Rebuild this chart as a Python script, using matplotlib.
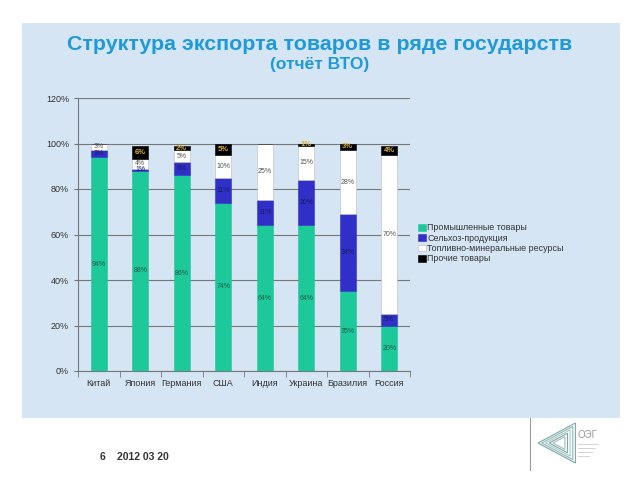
import matplotlib.pyplot as plt
import numpy as np
from matplotlib.patches import Rectangle, Polygon
from matplotlib.lines import Line2D

plt.rcParams['font.family'] = ['Liberation Sans', 'DejaVu Sans']

countries = ['Китай', 'Япония', 'Германия', 'США', 'Индия', 'Украина', 'Бразилия', 'Россия']
industrial = [94, 88, 86, 74, 64, 64, 35, 20]
agro = [3, 1, 6, 11, 11, 20, 34, 5]
fuel = [3, 4, 5, 10, 25, 15, 28, 70]
other = [0, 6, 2, 5, 0, 1, 3, 4]
series_names = ['Промышленные товары', 'Сельхоз-продукция',
                'Топливно-минеральные ресурсы', 'Прочие товары']
yticks = [0, 20, 40, 60, 80, 100, 120]

colors = ['#1dc99b', '#3030c8', '#ffffff', '#000000']
text_colors = ['#1f5a4a', '#1a1a60', '#555555', '#d9b13a']

fig = plt.figure(figsize=(6.4, 4.8), dpi=100)
fig.patch.set_facecolor('white')

# light blue slide panel
panel = Rectangle((22 / 640, 1 - 418 / 480), 598 / 640, 395 / 480,
                  transform=fig.transFigure, facecolor='#d5e5f3', edgecolor='none', zorder=-5)
fig.patches.append(panel)

fig.text(0.5, 1 - 45 / 480, 'Структура экспорта товаров в ряде государств',
         ha='center', va='center', fontsize=15.4, fontweight='bold', color='#1e9ad8')
fig.text(0.5, 1 - 64 / 480, '(отчёт ВТО)', ha='center', va='center',
         fontsize=12.5, fontweight='bold', color='#1e9ad8')

ax = fig.add_axes([78 / 640, 1 - 371 / 480, 332 / 640, 273 / 480])
ax.set_facecolor('none')
ax.set_zorder(2)

x = np.arange(len(countries))
width = 0.39
bottom = np.zeros(len(countries))
handles = []
for vals, col, tcol, name in zip([industrial, agro, fuel, other], colors, text_colors, series_names):
    vals = np.array(vals, dtype=float)
    edge = '#bbbbbb' if col == '#ffffff' else col
    bars = ax.bar(x, vals, width, bottom=bottom, color=col, edgecolor=edge,
                  linewidth=0.4, zorder=3, label=name)
    for xi, v, b in zip(x, vals, bottom):
        if v > 0:
            bold = col == '#000000'
            ax.text(xi, b + v / 2, f'{int(v)}%', ha='center', va='center',
                    fontsize=5.5 if bold else 5, color=tcol,
                    fontweight='bold' if bold else 'normal', zorder=4)
    bottom += vals
    handles.append(bars)

ax.set_ylim(0, 120)
ax.set_xlim(-0.5, len(countries) - 0.5)
ax.set_yticks(yticks)
ax.set_yticklabels([f'{t}%' for t in yticks])
ax.set_xticks(x)
ax.set_xticklabels(countries)
ax.set_xticks(np.arange(-0.5, len(countries), 1), minor=True)
ax.tick_params(axis='x', which='major', length=0, labelsize=6.5, colors='#333333', pad=6)
ax.tick_params(axis='x', which='minor', length=4, color='#777777', direction='out')
ax.tick_params(axis='y', length=3, labelsize=6.5, colors='#777777', labelcolor='#333333',
               direction='out')
ax.yaxis.grid(True, color='#777777', linewidth=0.8, zorder=0)
ax.set_axisbelow(True)
for s in ['top', 'right']:
    ax.spines[s].set_visible(False)
ax.spines['left'].set_color('#777777')
ax.spines['bottom'].set_color('#777777')

leg = fig.legend(handles=handles, labels=series_names, loc='upper left',
                 bbox_to_anchor=(414 / 640, 1 - 219 / 480), frameon=False,
                 fontsize=6.4, handlelength=0.8, handleheight=0.8, handletextpad=0.2,
                 labelspacing=0.15, borderpad=0)
for t in leg.get_texts():
    t.set_color('#333333')

fig.text(100 / 640, 1 - 457 / 480, '6', fontsize=7.5, fontweight='bold',
         color='#333333', va='center')
fig.text(117 / 640, 1 - 457 / 480, '2012 03 20', fontsize=7.5, fontweight='bold',
         color='#333333', va='center')

# logo
fig.lines.append(Line2D([530 / 640, 530 / 640], [1 - 418 / 480, 1 - 470 / 480],
                        transform=fig.transFigure, color='#999999', linewidth=0.8))
for k, c in enumerate(['#7aa8a8', '#8fb5b5', '#a9c6c6', '#7aa8a8', '#9fbcbc']):
    s = 1 - k * 0.17
    cx, cy = 560 / 640, 1 - 443 / 480
    w, h = 22 / 640 * s, 20 / 480 * s
    tri = Polygon([(cx - w, cy), (cx + w * 0.7, cy + h), (cx + w * 0.7, cy - h)],
                  closed=True, fill=False, edgecolor=c, linewidth=0.8,
                  transform=fig.transFigure)
    fig.patches.append(tri)
fig.text(578 / 640, 1 - 435 / 480, 'ОЭГ', fontsize=7, color='#999999', va='center')
for i in range(4):
    fig.lines.append(Line2D([578 / 640, (598 - i * 3) / 640],
                            [1 - (444 + i * 4) / 480, 1 - (444 + i * 4) / 480],
                            transform=fig.transFigure, color='#cccccc', linewidth=0.6))

fig.savefig('out.png', dpi=100)
